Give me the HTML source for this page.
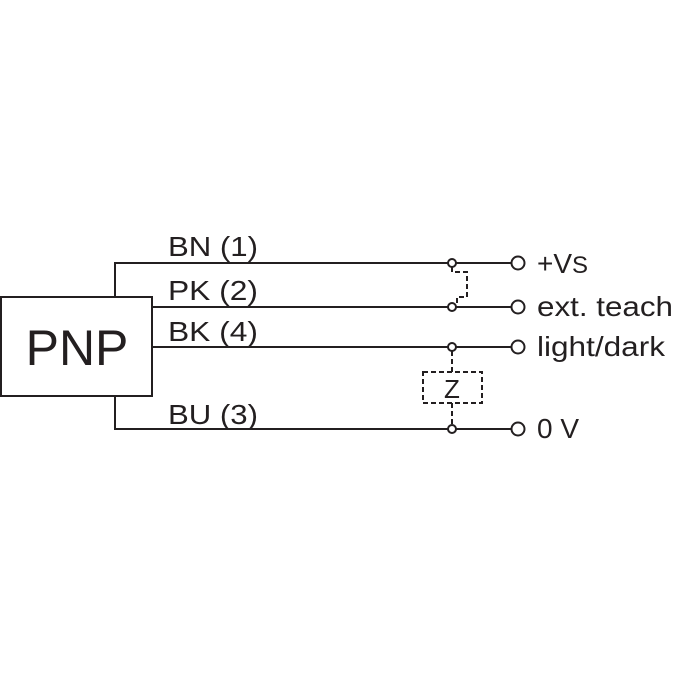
<!DOCTYPE html>
<html><head><style>body{margin:0;background:#fff}</style></head><body>
<svg width="675" height="675" xmlns="http://www.w3.org/2000/svg" font-family="Liberation Sans, sans-serif" fill="#231f20">
<g stroke="#231f20" stroke-width="2" fill="none">
<rect x="1" y="297" width="151" height="99"/>
<polyline points="115,297 115,263 448,263"/>
<polyline points="115,396 115,429 448,429"/>
<line x1="152" y1="307" x2="448" y2="307"/>
<line x1="152" y1="347" x2="448" y2="347"/>
<line x1="456" y1="263" x2="511" y2="263"/>
<line x1="456" y1="307" x2="511" y2="307"/>
<line x1="456" y1="347" x2="511" y2="347"/>
<line x1="456" y1="429" x2="511" y2="429"/>
<circle cx="452" cy="263" r="4"/>
<circle cx="452" cy="307" r="4"/>
<circle cx="452" cy="347" r="4"/>
<circle cx="452" cy="429" r="4"/>
<circle cx="518" cy="263" r="6.5"/>
<circle cx="518" cy="307" r="6.5"/>
<circle cx="518" cy="347" r="6.5"/>
<circle cx="518" cy="429" r="6.5"/>
<g stroke-dasharray="5,3">
<polyline points="452,267 452,272 467,272 467,297 457,297 457,303"/>
<line x1="452" y1="351" x2="452" y2="372"/>
<rect x="423" y="372" width="59" height="31"/>
<line x1="452" y1="403" x2="452" y2="425"/>
</g>
</g>
<text x="77" y="365" font-size="50" text-anchor="middle">PNP</text>
<g font-size="28">
<text x="168" y="256" textLength="90" lengthAdjust="spacingAndGlyphs">BN (1)</text>
<text x="168" y="300" textLength="90" lengthAdjust="spacingAndGlyphs">PK (2)</text>
<text x="168" y="341" textLength="90" lengthAdjust="spacingAndGlyphs">BK (4)</text>
<text x="168" y="424" textLength="90" lengthAdjust="spacingAndGlyphs">BU (3)</text>
<text x="537" y="273">+V<tspan font-size="24">S</tspan></text>
<text x="537" y="316" textLength="136" lengthAdjust="spacingAndGlyphs">ext. teach</text>
<text x="537" y="356" textLength="128" lengthAdjust="spacingAndGlyphs">light/dark</text>
<text x="537" y="438">0 V</text>
</g>
<text x="452" y="398" font-size="26" text-anchor="middle">Z</text>
</svg>
</body></html>
